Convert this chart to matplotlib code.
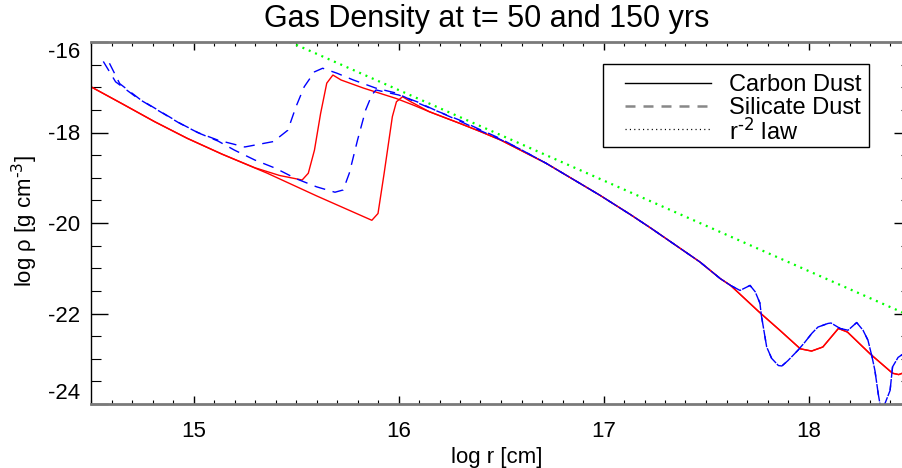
import matplotlib
matplotlib.use("Agg")
import matplotlib.pyplot as plt
from matplotlib.lines import Line2D
from matplotlib.patches import Rectangle
from matplotlib.ticker import MultipleLocator

# ── data (log r [cm], log rho [g cm^-3]) ────────────────────────────────
# shared outer profile of the gas (both carbon runs)
carbon_outer_x = [16.15, 16.30, 16.40, 16.50, 16.72, 16.98, 17.13, 17.23, 17.47, 17.57,
                  17.62, 17.76, 17.86, 17.96, 18.015, 18.07, 18.146, 18.19, 18.30,
                  18.41, 18.44, 18.50]
carbon_outer_y = [-17.54, -17.80, -17.98, -18.17, -18.68, -19.38, -19.81, -20.11, -20.86, -21.23,
                  -21.38, -21.97, -22.37, -22.78, -22.83, -22.74, -22.33, -22.41, -22.89,
                  -23.32, -23.35, -23.25]

# carbon dust, t = 50 yrs (inner part)
carbon50_x = [14.50, 14.65, 14.81, 14.97, 15.14, 15.30, 15.42, 15.53, 15.56, 15.59,
              15.62, 15.65, 15.68, 15.72, 15.83, 15.99, 16.07]
carbon50_y = [-16.99, -17.36, -17.76, -18.13, -18.48, -18.78, -18.95, -19.05, -18.90, -18.39,
              -17.58, -16.91, -16.73, -16.84, -17.02, -17.25, -17.39]

# carbon dust, t = 150 yrs (inner part)
carbon150_x = [14.50, 14.65, 14.81, 14.97, 15.14, 15.36, 15.60, 15.87, 15.90, 15.93,
               15.97, 15.99, 16.02, 16.06]
carbon150_y = [-16.99, -17.36, -17.76, -18.13, -18.48, -18.90, -19.40, -19.94, -19.79, -18.90,
               -17.65, -17.32, -17.21, -17.32]

# silicate dust, shared outer profile
silicate_outer_x = [16.59, 16.72, 16.98, 17.13, 17.23, 17.47, 17.57, 17.62, 17.666, 17.715,
                    17.74, 17.763, 17.77, 17.796, 17.82, 17.853, 17.87, 17.90, 17.949, 17.983,
                    18.016, 18.046, 18.095, 18.11, 18.154, 18.193, 18.235, 18.266, 18.29,
                    18.31, 18.324, 18.34, 18.36, 18.373, 18.398, 18.41, 18.437, 18.46, 18.50]
silicate_outer_y = [-18.36, -18.68, -19.38, -19.81, -20.11, -20.86, -21.23, -21.38, -21.49, -21.38,
                    -21.52, -21.77, -22.04, -22.74, -22.99, -23.15, -23.16, -23.04, -22.81, -22.63,
                    -22.44, -22.30, -22.22, -22.21, -22.33, -22.37, -22.20, -22.37, -22.59,
                    -22.96, -23.26, -23.77, -24.30, -23.99, -23.70, -23.18, -22.97, -22.90, -22.90]

# silicate dust, t = 50 yrs (inner part)
silicate50_x = [14.56, 14.62, 14.73, 14.83, 14.93, 15.02, 15.12, 15.25, 15.39, 15.46,
                15.50, 15.54, 15.59, 15.63, 15.70, 15.78, 15.89, 15.99, 16.07, 16.19,
                16.30, 16.39, 16.49]
silicate50_y = [-16.43, -16.88, -17.25, -17.52, -17.79, -18.00, -18.17, -18.32, -18.20, -17.95,
                -17.43, -16.99, -16.66, -16.58, -16.69, -16.84, -17.02, -17.13, -17.30, -17.53,
                -17.73, -17.92, -18.12]

# silicate dust, t = 150 yrs (inner part)
silicate150_x = [14.59, 14.64, 14.74, 14.84, 14.94, 15.03, 15.12, 15.20, 15.30, 15.40,
                 15.50, 15.60, 15.69, 15.73, 15.76, 15.80, 15.84, 15.87, 15.89, 16.00,
                 16.09, 16.19, 16.30, 16.39, 16.49]
silicate150_y = [-16.47, -16.92, -17.27, -17.54, -17.81, -18.02, -18.19, -18.39, -18.61, -18.79,
                 -19.02, -19.20, -19.32, -19.27, -18.90, -18.17, -17.50, -17.17, -17.06, -17.17,
                 -17.32, -17.53, -17.75, -17.94, -18.14]

# r^-2 reference law
law_x = [15.47, 18.47]
law_y = [-16.00, -22.00]

legend_labels = ["Carbon Dust", "Silicate Dust", r"r$^{\text{-2}}$ law"]

RED = "#FF0000"
BLUE = "#0000FF"
GREEN = "#00FF00"
AXGRAY = "#7A7A7A"
W, H = 903, 468

plt.rcParams.update({
    "font.family": ["Liberation Sans", "DejaVu Sans"],
    "mathtext.default": "regular",
    "axes.unicode_minus": False,
})


def fx(px):
    return px / W


def fy(py):
    return 1 - py / H


fig = plt.figure(figsize=(W / 100, H / 100), dpi=100)
ax = fig.add_axes([fx(91), fy(404), 820 / W, 362 / H])

for cx, cy in [(carbon50_x, carbon50_y), (carbon150_x, carbon150_y)]:
    ax.plot(cx + carbon_outer_x, cy + carbon_outer_y, "-", color=RED, lw=1.0)
for sx, sy in [(silicate50_x, silicate50_y), (silicate150_x, silicate150_y)]:
    ax.plot(sx + silicate_outer_x, sy + silicate_outer_y, color=BLUE, lw=1.0,
            dashes=(8, 5.5))
ax.plot(law_x, law_y, color=GREEN, lw=1.6, dashes=(0.9, 2.2))

ax.set_xlim(14.5, 18.5)
ax.set_ylim(-24, -16)
ax.set_xticks([15, 16, 17, 18])
ax.set_yticks([-24, -22, -20, -18, -16])
ax.xaxis.set_minor_locator(MultipleLocator(0.1))
ax.yaxis.set_minor_locator(MultipleLocator(0.5))
ax.tick_params(axis="both", which="both", direction="in", top=True, right=True,
               labelsize=16, color="black")
ax.tick_params(axis="x", which="major", length=5.5, width=1.0, pad=12)
ax.tick_params(axis="x", which="minor", length=2.8, width=0.8)
ax.tick_params(axis="y", which="major", length=12, width=1.0, pad=8)
ax.tick_params(axis="y", which="minor", length=7, width=0.8)
ylabels = ax.get_yticklabels()
ylabels[0].set_va("bottom")
ylabels[-1].set_va("top")

for side in ["top", "bottom"]:
    ax.spines[side].set_color(AXGRAY)
    ax.spines[side].set_linewidth(2.0)
ax.spines["left"].set_linewidth(1.0)

fig.text(fx(487), fy(19), "Gas Density at t= 50 and 150 yrs",
         ha="center", va="center", fontsize=22)
fig.text(fx(497), fy(457), "log r [cm]", ha="center", va="center", fontsize=16)
fig.text(fx(25), fy(221), r"log $\rho$ [g cm$^{\text{-3}}$]", ha="center", va="center",
         rotation=90, fontsize=16)

# ── legend box drawn by hand to match the IDL layout ─────────────────────
fig.add_artist(Rectangle((fx(602.7), fy(147.3)), (869.3 - 602.7) / W, (147.3 - 64.3) / H,
                         transform=fig.transFigure, facecolor="white",
                         edgecolor="black", lw=1.0, zorder=5))
rows = [82.7, 105.5, 128.5]
styles = [dict(color="black", lw=1.0),
          dict(color="#888888", lw=1.8, dashes=(4, 3.2)),
          dict(color="black", lw=0.9, dashes=(0.9, 2.6))]
for py, st, lab in zip(rows, styles, legend_labels):
    fig.add_artist(Line2D([fx(625), fx(711)], [fy(py), fy(py)],
                          transform=fig.transFigure, zorder=6, **st))
    fig.text(fx(729), fy(py), lab, ha="left", va="center_baseline", fontsize=17, zorder=6)

fig.savefig("out.png", dpi=100)
